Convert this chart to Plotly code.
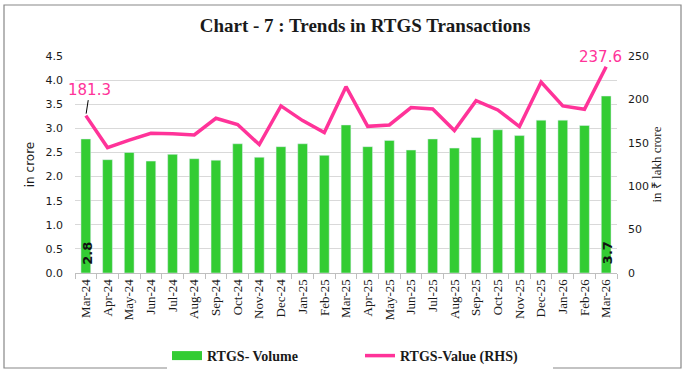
import plotly.graph_objects as go

months = ["Mar-24","Apr-24","May-24","Jun-24","Jul-24","Aug-24","Sep-24","Oct-24","Nov-24","Dec-24",
          "Jan-25","Feb-25","Mar-25","Apr-25","May-25","Jun-25","Jul-25","Aug-25","Sep-25","Oct-25",
          "Nov-25","Dec-25","Jan-26","Feb-26","Mar-26"]
volume = [2.78, 2.35, 2.50, 2.32, 2.46, 2.37, 2.34, 2.68, 2.40, 2.62,
          2.68, 2.44, 3.07, 2.62, 2.75, 2.55, 2.78, 2.59, 2.81, 2.97,
          2.85, 3.17, 3.17, 3.06, 3.67]
value = [181.3, 144.5, 153.0, 161.0, 160.3, 159.1, 178.3, 171.0, 148.0, 192.5,
         175.6, 161.8, 214.7, 169.0, 170.6, 190.6, 189.0, 164.1, 198.6, 187.9,
         168.7, 220.0, 192.5, 188.6, 237.6]

GREEN = "#33cc33"
PINK = "#ff3399"

L, R, T, B = 75, 68, 56, 100
W, H = 685, 373
pw, ph = W - L - R, H - T - B

fig = go.Figure()
fig.add_trace(go.Bar(
    x=months, y=volume, marker_color=GREEN, showlegend=False, name="RTGS- Volume",
))
fig.add_trace(go.Scatter(
    x=[None], y=[None], mode="lines", name="RTGS- Volume",
    line=dict(color=GREEN, width=9),
))
fig.add_trace(go.Scatter(
    x=months, y=value, mode="lines", name="RTGS-Value (RHS)", yaxis="y2",
    line=dict(color=PINK, width=3.5), cliponaxis=False,
))

# volume labels for first and last bars
for i in (0, len(months) - 1):
    fig.add_annotation(x=months[i], y=0, yref="y", text=f"{volume[i]:.1f}", showarrow=False,
                       textangle=-90, yshift=20, xshift=1,
                       font=dict(family="DejaVu Sans", size=13, color="#111111", weight="bold"))

fig.add_annotation(x=months[0], y=value[0], yref="y2", text="181.3", showarrow=True,
                   ax=4, ay=-26, arrowhead=0, arrowwidth=1, arrowcolor="black", standoff=2,
                   font=dict(family="DejaVu Sans", size=15, color=PINK))
fig.add_annotation(x=months[-1], y=value[-1], yref="y2", text="237.6", showarrow=False,
                   yanchor="bottom", xshift=-6, yshift=-1,
                   font=dict(family="DejaVu Sans", size=15, color=PINK))

# outer border
fig.add_shape(type="rect", xref="paper", yref="paper",
              x0=(4 - L) / pw, x1=(681 - L) / pw, y0=(H - B - 368) / ph, y1=(H - B - 5) / ph,
              line=dict(color="#888888", width=1.2), fillcolor="rgba(0,0,0,0)", layer="below")

fig.update_layout(
    width=W, height=H, margin=dict(l=L, r=R, t=T, b=B, autoexpand=False),
    paper_bgcolor="white", plot_bgcolor="white",
    title=dict(text="<b>Chart - 7 : Trends in RTGS Transactions</b>", xref="container",
               x=365 / W, xanchor="center", y=1 - 25 / H, yanchor="middle",
               font=dict(family="Liberation Serif", size=19, color="#1a1a1a")),
    bargap=0.55,
    xaxis=dict(type="category", tickangle=-90, ticks="outside", tickson="boundaries",
               ticklen=5, tickcolor="#bfbfbf", showline=True, linecolor="#bfbfbf",
               showgrid=False, range=[-0.5, 24.5], automargin=False,
               tickfont=dict(family="Liberation Serif", size=13, color="#1a1a1a")),
    yaxis=dict(range=[0, 4.5], dtick=0.5, tickformat=".1f", showgrid=True, gridcolor="#d9d9d9",
               zeroline=False, ticklabelstandoff=11, automargin=False,
               tickfont=dict(family="DejaVu Sans", size=11, color="#1a1a1a"),
               title=dict(text="in crore", standoff=8,
                          font=dict(family="DejaVu Sans", size=12, color="#1a1a1a"))),
    yaxis2=dict(range=[0, 250], dtick=50, overlaying="y", side="right", showgrid=False,
                zeroline=False, ticklabelstandoff=10, automargin=False,
                tickfont=dict(family="DejaVu Sans", size=11, color="#1a1a1a"),
                title=dict(text="in ₹ lakh crore", standoff=2,
                           font=dict(family="Liberation Serif", size=13, color="#1a1a1a"))),
    legend=dict(orientation="h", x=(360 - L) / pw, xanchor="center", y=(H - B - 356) / ph,
                yanchor="middle", entrywidth=148, entrywidthmode="pixels",
                font=dict(family="Liberation Serif", size=14, color="#1a1a1a", weight="bold"),
                itemclick=False),
)
fig.write_html("out.html", config={"displayModeBar": False},
               post_script="document.body.style.margin='0';")
